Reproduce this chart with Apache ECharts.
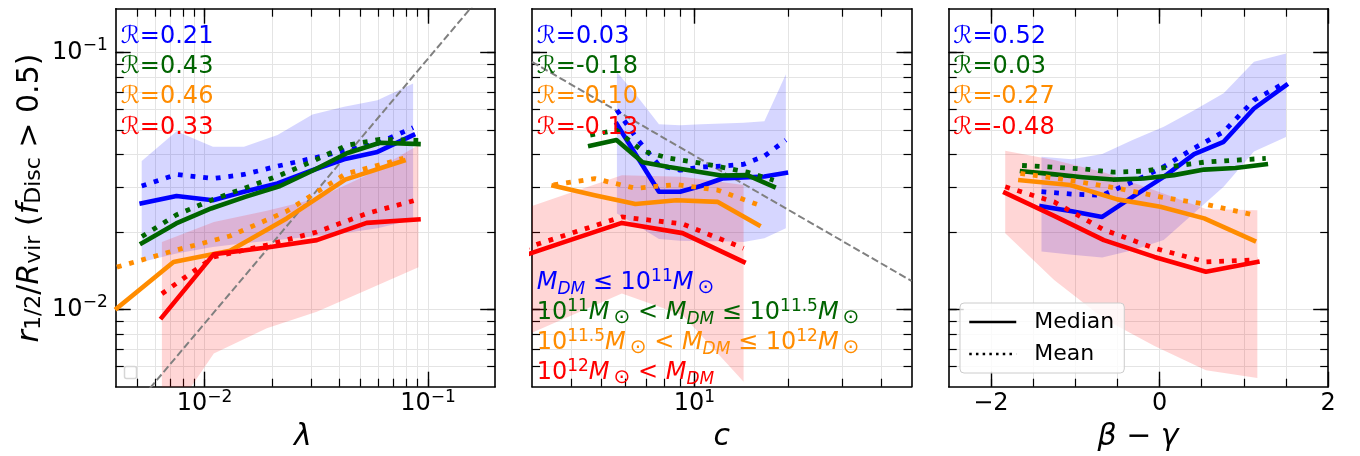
<!DOCTYPE html>
<html>
<head>
<meta charset="utf-8">
<script src="https://cdn.jsdelivr.net/npm/echarts@6/dist/echarts.min.js"></script>
<style>
html, body { margin: 0; padding: 0; background: #fff; }
#chart { width: 1360px; height: 456px; }
</style>
</head>
<body>
<div id="chart"></div>
<script>
// ---------------- data: r_1/2 / R_vir for disc galaxies, binned by halo property ----------------
// spin parameter lambda
const lambdaBlueX    = [0.00523, 0.00749, 0.0109, 0.0150, 0.0212, 0.0304, 0.0421, 0.0594, 0.0858];
const lambdaBlueMed  = [0.0259, 0.0276, 0.0266, 0.0287, 0.0309, 0.0348, 0.0384, 0.0410, 0.0477];
const lambdaBlueMean = [0.0302, 0.0335, 0.0323, 0.0335, 0.0361, 0.0387, 0.0414, 0.0442, 0.0510];
const lambdaBlueLo   = [0.0153, 0.0165, 0.0175, 0.0181, 0.0186, 0.0192, 0.0198, 0.0207, 0.0223];
const lambdaBlueHi   = [0.0378, 0.0494, 0.0429, 0.0429, 0.0477, 0.0574, 0.0614, 0.0652, 0.0757];

const lambdaGreenX    = [0.00524, 0.00746, 0.0107, 0.0152, 0.0218, 0.0307, 0.0433, 0.0610, 0.0907];
const lambdaGreenMed  = [0.0181, 0.0216, 0.0247, 0.0274, 0.0302, 0.0348, 0.0405, 0.0445, 0.0440];
const lambdaGreenMean = [0.0192, 0.0233, 0.0266, 0.0297, 0.0333, 0.0378, 0.0435, 0.0459, 0.0455];

const lambdaOrangeX    = [0.00405, 0.00726, 0.0130, 0.0233, 0.0426, 0.0777];
const lambdaOrangeMed  = [0.0101, 0.0153, 0.0169, 0.0226, 0.0320, 0.0379];
const lambdaOrangeMean = [0.0146, 0.0169, 0.0193, 0.0241, 0.0336, 0.0387];

const lambdaRedX    = [0.00644, 0.0110, 0.0190, 0.0318, 0.0532, 0.0907];
const lambdaRedMed  = [0.00931, 0.0164, 0.0174, 0.0186, 0.0217, 0.0224];
const lambdaRedMean = [0.0115, 0.0160, 0.0178, 0.0200, 0.0236, 0.0268];
const lambdaRedLo   = [0.0034, 0.00674, 0.00844, 0.00979, 0.0119, 0.0146];
const lambdaRedHi   = [0.0183, 0.0219, 0.0242, 0.0270, 0.0333, 0.0436];

const lambdaRefX = [0.004, 0.2];
const lambdaRefY = [0.00343, 0.193];

// concentration c
const concBlueX    = [5.63, 6.58, 7.69, 8.99, 10.5, 12.3, 14.4, 16.8, 19.7];
const concBlueMed  = [0.0526, 0.0388, 0.0287, 0.0287, 0.0302, 0.0323, 0.0326, 0.0329, 0.0340];
const concBlueMean = [0.0596, 0.0456, 0.0364, 0.0348, 0.0358, 0.0361, 0.0367, 0.0395, 0.0456];
const concBlueLo   = [0.0236, 0.0211, 0.0188, 0.0185, 0.0184, 0.0184, 0.0183, 0.0189, 0.0207];
const concBlueHi   = [0.0840, 0.0669, 0.0526, 0.0521, 0.0526, 0.0529, 0.0533, 0.0540, 0.0823];

const concGreenX    = [4.62, 5.61, 6.81, 8.28, 10.05, 12.2, 14.8, 18.0];
const concGreenMed  = [0.0433, 0.0456, 0.0374, 0.0358, 0.0345, 0.0332, 0.0333, 0.0300];
const concGreenMean = [0.0477, 0.0498, 0.0413, 0.0388, 0.0374, 0.0358, 0.0342, 0.0318];

const concOrangeX    = [3.52, 4.77, 6.46, 8.76, 11.9, 16.1];
const concOrangeMed  = [0.0303, 0.0278, 0.0257, 0.0266, 0.0262, 0.0213];
const concOrangeMean = [0.0305, 0.0323, 0.0296, 0.0306, 0.0291, 0.0255];

const concRedX    = [2.37, 3.72, 5.84, 9.16, 14.4];
const concRedMed  = [0.0151, 0.0181, 0.0217, 0.0198, 0.0153];
const concRedMean = [0.0161, 0.0192, 0.0229, 0.0215, 0.0173];
const concRedLo   = [0.00717, 0.00909, 0.01154, 0.0095, 0.00523];
const concRedHi   = [0.0229, 0.0276, 0.0333, 0.0328, 0.0305];

const concRefX = [3, 50];
const concRefY = [0.0919, 0.0129];

// beta - gamma
const bgBlueX    = [-1.40, -1.04, -0.68, -0.32, 0.05, 0.41, 0.76, 1.12, 1.50];
const bgBlueMed  = [0.0252, 0.0241, 0.0229, 0.0274, 0.0328, 0.0402, 0.0449, 0.0605, 0.0746];
const bgBlueMean = [0.0287, 0.0281, 0.0278, 0.0313, 0.0359, 0.0424, 0.0491, 0.0652, 0.0766];
const bgBlueLo   = [0.0168, 0.0163, 0.0159, 0.0170, 0.0186, 0.0237, 0.0300, 0.0412, 0.0469];
const bgBlueHi   = [0.0393, 0.0384, 0.0402, 0.0456, 0.0514, 0.0596, 0.0693, 0.0919, 0.0991];

const bgGreenX    = [-1.63, -1.27, -0.91, -0.55, -0.19, 0.17, 0.53, 0.90, 1.26];
const bgGreenMed  = [0.0345, 0.0336, 0.0327, 0.0320, 0.0323, 0.0333, 0.0350, 0.0355, 0.0367];
const bgGreenMean = [0.0363, 0.0358, 0.0352, 0.0342, 0.0345, 0.0361, 0.0374, 0.0381, 0.0387];

const bgOrangeX    = [-1.65, -1.06, -0.50, 0.01, 0.53, 1.12];
const bgOrangeMed  = [0.0318, 0.0305, 0.0268, 0.0251, 0.0226, 0.0185];
const bgOrangeMean = [0.0338, 0.0318, 0.0296, 0.0274, 0.0257, 0.0233];

const bgRedX    = [-1.83, -1.25, -0.66, -0.06, 0.55, 1.16];
const bgRedMed  = [0.0284, 0.0231, 0.0186, 0.0160, 0.0140, 0.0153];
const bgRedMean = [0.0300, 0.0262, 0.0204, 0.0173, 0.0153, 0.0156];
const bgRedLo   = [0.0198, 0.0130, 0.0092, 0.0072, 0.0058, 0.0054];
const bgRedHi   = [0.0414, 0.0381, 0.0342, 0.0291, 0.0246, 0.0243];

// Spearman coefficients per mass bin, one list per panel
const corrLambda = ['0.21', '0.43', '0.46', '0.33'];
const corrConc   = ['0.03', '-0.18', '-0.10', '-0.13'];
const corrBG     = ['0.52', '0.03', '-0.27', '-0.48'];

// axis ranges and ticks
const yRange = [0.005, 0.148];
const lambdaRange = [0.004, 0.2];
const concRange = [3, 50];
const bgRange = [-2.5, 2];
const bgMajorTicks = [-2, 0, 2];
const bgMinorStep = 0.5;

// ---------------- styling ----------------
const FONT = "'DejaVu Sans', sans-serif";
const BLUE = '#0000ff', GREEN = '#006400', ORANGE = '#ff8c00', RED = '#ff0000';
const GROUP_COLORS = [BLUE, GREEN, ORANGE, RED];
const BAND_BLUE = 'rgba(0,0,255,0.16)', BAND_RED = 'rgba(255,0,0,0.16)';
const GRID_LINE = '#e4e4e4';
const LG = Math.log10;

const GRID_TOP = 8.7, GRID_H = 378, GRID_W = 379.5;
const PANEL_LEFT = [115.7, 532, 948.7];

function logTicks(a, b, majorOnly) {
  const out = [];
  for (let n = Math.floor(LG(a)); n <= Math.ceil(LG(b)); n++) {
    for (let k = 1; k <= 9; k++) {
      if (majorOnly && k !== 1) continue;
      const v = k * Math.pow(10, n);
      if (v > a * 1.0001 && v < b * 0.9999) out.push(LG(v));
    }
  }
  return out;
}
function linTicks(a, b, s) {
  const out = [];
  for (let v = a + s; v < b - 1e-9; v += s) out.push(+v.toFixed(6));
  return out;
}
const minus = s => String(s).replace('-', '\u2212');

const powRich = {
  b: { fontSize: 24, fontFamily: FONT, color: '#000', lineHeight: 30 },
  s: { fontSize: 17, fontFamily: FONT, color: '#000', lineHeight: 12, verticalAlign: 'top' }
};
const powFormatter = v => `{b|10}{s|${minus(Math.round(v))}}`;
const linFormatter = v => `{b|${minus(Math.round(v))}}`;

const yMin = LG(yRange[0]), yMax = LG(yRange[1]);
const yMajor = logTicks(yRange[0], yRange[1], true);
const yMinor = logTicks(yRange[0], yRange[1], false);

const panels = [
  { xMin: LG(lambdaRange[0]), xMax: LG(lambdaRange[1]), xMajor: logTicks(lambdaRange[0], lambdaRange[1], true),
    xMinor: logTicks(lambdaRange[0], lambdaRange[1], false), fmt: powFormatter, yLabels: true },
  { xMin: LG(concRange[0]), xMax: LG(concRange[1]), xMajor: logTicks(concRange[0], concRange[1], true),
    xMinor: logTicks(concRange[0], concRange[1], false), fmt: powFormatter, yLabels: false },
  { xMin: bgRange[0], xMax: bgRange[1], xMajor: bgMajorTicks,
    xMinor: linTicks(bgRange[0], bgRange[1], bgMinorStep), fmt: linFormatter, yLabels: false }
];

const grids = [], xAxes = [], yAxes = [];
const AXIS_LINE = { show: true, onZero: false, lineStyle: { color: '#000', width: 1.6 } };
const NO_LINE = { show: false, onZero: false };

function axisSet(gi, dim, min, max, major, minor, fmt, showLabels) {
  const sides = dim === 'x' ? ['bottom', 'top'] : ['left', 'right'];
  const list = [];
  sides.forEach((side, si) => {
    // major ticks (long), with frame line and labels on the primary side
    list.push({
      type: 'value', gridIndex: gi, position: side, min, max,
      axisLine: AXIS_LINE,
      axisTick: { show: true, inside: true, length: 15, lineStyle: { color: '#000', width: 1.4 }, customValues: major },
      axisLabel: (si === 0 && showLabels) ? {
        show: true, customValues: major, formatter: fmt, rich: powRich, fontFamily: FONT,
        margin: dim === 'x' ? 2 : 8
      } : { show: false },
      splitLine: { show: false }
    });
    // minor ticks (short); the grid lines ride on these
    list.push({
      type: 'value', gridIndex: gi, position: side, min, max,
      axisLine: NO_LINE,
      axisTick: { show: true, inside: true, length: 8, lineStyle: { color: '#000', width: 1.2 }, customValues: minor },
      axisLabel: { show: false },
      splitLine: { show: si === 0, lineStyle: { color: GRID_LINE, width: 1 } }
    });
  });
  return list;
}

panels.forEach((p, gi) => {
  grids.push({ left: PANEL_LEFT[gi], top: GRID_TOP, width: GRID_W, height: GRID_H, show: false });
  xAxes.push(...axisSet(gi, 'x', p.xMin, p.xMax, p.xMajor, p.xMinor, p.fmt, true));
  yAxes.push(...axisSet(gi, 'y', yMin, yMax, yMajor, yMinor.concat(yMajor), powFormatter, p.yLabels));
});

// ---------------- series ----------------
const series = [];
function tx(gi, v) { return gi === 2 ? v : LG(v); }

function addBand(gi, xs, lo, hi, fill) {
  const pts = xs.map((x, i) => [tx(gi, x), LG(lo[i]), LG(hi[i])]);
  series.push({
    type: 'custom', xAxisIndex: 4 * gi, yAxisIndex: 4 * gi, silent: true, z: 1,
    data: pts,
    renderItem: (params, api) => {
      if (params.dataIndex !== 0) return;
      const poly = [];
      pts.forEach(d => poly.push(api.coord([d[0], d[1]])));
      for (let i = pts.length - 1; i >= 0; i--) poly.push(api.coord([pts[i][0], pts[i][2]]));
      const cs = params.coordSys;
      return {
        type: 'polygon', shape: { points: poly }, style: { fill, stroke: null },
        clipPath: { type: 'rect', shape: { x: cs.x, y: cs.y, width: cs.width, height: cs.height } }
      };
    }
  });
}
function addLine(gi, xs, ys, color, dotted, z) {
  series.push({
    type: 'line', xAxisIndex: 4 * gi, yAxisIndex: 4 * gi, silent: true, z: z || 3,
    data: xs.map((x, i) => [tx(gi, x), LG(ys[i])]),
    symbol: 'none', clip: true,
    lineStyle: dotted
      ? { color, width: 4.8, type: [4.8, 7.9], cap: 'butt', join: 'round' }
      : { color, width: 4.6, type: 'solid', cap: 'square', join: 'round' }
  });
}
function addRef(gi, xs, ys) {
  series.push({
    type: 'line', xAxisIndex: 4 * gi, yAxisIndex: 4 * gi, silent: true, z: 2,
    data: xs.map((x, i) => [tx(gi, x), LG(ys[i])]),
    symbol: 'none', clip: true,
    lineStyle: { color: '#808080', width: 2, type: [7.4, 3.2] }
  });
}

// panel 1: lambda
addBand(0, lambdaBlueX, lambdaBlueLo, lambdaBlueHi, BAND_BLUE);
addBand(0, lambdaRedX, lambdaRedLo, lambdaRedHi, BAND_RED);
addRef(0, lambdaRefX, lambdaRefY);
addLine(0, lambdaBlueX, lambdaBlueMed, BLUE, false);
addLine(0, lambdaBlueX, lambdaBlueMean, BLUE, true);
addLine(0, lambdaGreenX, lambdaGreenMed, GREEN, false);
addLine(0, lambdaGreenX, lambdaGreenMean, GREEN, true);
addLine(0, lambdaOrangeX, lambdaOrangeMed, ORANGE, false);
addLine(0, lambdaOrangeX, lambdaOrangeMean, ORANGE, true);
addLine(0, lambdaRedX, lambdaRedMed, RED, false);
addLine(0, lambdaRedX, lambdaRedMean, RED, true);

// panel 2: concentration
addBand(1, concBlueX, concBlueLo, concBlueHi, BAND_BLUE);
addBand(1, concRedX, concRedLo, concRedHi, BAND_RED);
addRef(1, concRefX, concRefY);
addLine(1, concBlueX, concBlueMed, BLUE, false);
addLine(1, concBlueX, concBlueMean, BLUE, true);
addLine(1, concGreenX, concGreenMed, GREEN, false);
addLine(1, concGreenX, concGreenMean, GREEN, true);
addLine(1, concOrangeX, concOrangeMed, ORANGE, false);
addLine(1, concOrangeX, concOrangeMean, ORANGE, true);
addLine(1, concRedX, concRedMed, RED, false);
addLine(1, concRedX, concRedMean, RED, true);

// panel 3: beta - gamma
addBand(2, bgBlueX, bgBlueLo, bgBlueHi, BAND_BLUE);
addBand(2, bgRedX, bgRedLo, bgRedHi, BAND_RED);
addLine(2, bgBlueX, bgBlueMed, BLUE, false);
addLine(2, bgBlueX, bgBlueMean, BLUE, true);
addLine(2, bgGreenX, bgGreenMed, GREEN, false);
addLine(2, bgGreenX, bgGreenMean, GREEN, true);
addLine(2, bgOrangeX, bgOrangeMed, ORANGE, false);
addLine(2, bgOrangeX, bgOrangeMean, ORANGE, true);
addLine(2, bgRedX, bgRedMed, RED, false);
addLine(2, bgRedX, bgRedMean, RED, true);

// line-style key (no data of its own)
series.push({ name: 'Median', type: 'line', xAxisIndex: 8, yAxisIndex: 8, data: [], symbol: 'none',
  itemStyle: { color: '#000', opacity: 0 },
  lineStyle: { color: '#000', width: 2.5, type: 'solid' } });
series.push({ name: 'Mean', type: 'line', xAxisIndex: 8, yAxisIndex: 8, data: [], symbol: 'none',
  itemStyle: { color: '#000', opacity: 0 },
  lineStyle: { color: '#000', width: 2.5, type: [2.5, 4.2] } });

// ---------------- text ----------------
const mathRich = (size, color) => ({
  t:  { fontSize: size, fontFamily: FONT, fill: color, lineHeight: 30 },
  i:  { fontSize: size, fontFamily: FONT, fontStyle: 'italic', fill: color, lineHeight: 30 },
  sup:{ fontSize: Math.round(size * 0.72), fontFamily: FONT, fill: color, lineHeight: 12, verticalAlign: 'top' },
  sub:{ fontSize: Math.round(size * 0.72), fontFamily: FONT, fill: color, lineHeight: 13, verticalAlign: 'bottom' },
  subi:{ fontSize: Math.round(size * 0.72), fontFamily: FONT, fontStyle: 'italic', fill: color, lineHeight: 13, verticalAlign: 'bottom' },
  sun:{ fontSize: Math.round(size * 0.85), fontFamily: FONT, fill: color, lineHeight: 12, verticalAlign: 'bottom' }
});
function mathText(x, y, text, size, color, align) {
  return {
    type: 'text', x, y, z: 10, silent: true,
    style: { text, rich: mathRich(size, color), fontFamily: FONT, fontSize: size, fill: color,
      align: align || 'left', verticalAlign: 'middle' }
  };
}

const graphics = [];
const corrRows = [37, 67, 97, 127.5];
[[corrLambda, 120.7], [corrConc, 536.7], [corrBG, 953.3]].forEach(([vals, x]) => {
  vals.forEach((v, k) => {
    graphics.push(mathText(x, corrRows[k], `{t|\u211B=${v}}`, 24, GROUP_COLORS[k]));
  });
});

// halo-mass bins, written in panel 2
const SUN = '{sun|\u2009\u2299}';
const massLabels = [
  `{i|M}{subi|DM}{t| \u2264 10}{sup|11}{i|M}${SUN}`,
  `{t|10}{sup|11}{i|M}${SUN}{t| < }{i|M}{subi|DM}{t| \u2264 10}{sup|11.5}{i|M}${SUN}`,
  `{t|10}{sup|11.5}{i|M}${SUN}{t| < }{i|M}{subi|DM}{t| \u2264 10}{sup|12}{i|M}${SUN}`,
  `{t|10}{sup|12}{i|M}${SUN}{t| < }{i|M}{subi|DM}`
];
massLabels.forEach((s, k) => graphics.push(mathText(536.7, 283 + 30 * k, s, 24, GROUP_COLORS[k])));

// axis titles
graphics.push(mathText(303, 437, '{i|\u03BB}', 30, '#000', 'center'));
graphics.push(mathText(721.7, 437, '{i|c}', 30, '#000', 'center'));
graphics.push(mathText(1138, 437, '{i|\u03B2}{t| \u2212 }{i|\u03B3}', 30, '#000', 'center'));
graphics.push({
  type: 'text', x: 30, y: 198, rotation: Math.PI / 2, z: 10, silent: true,
  style: {
    text: '{i|r}{sub|1/2}{t|/}{i|R}{sub|vir}{t| (}{i|f}{sub|Disc}{t| > 0.5)}',
    rich: mathRich(30, '#000'), align: 'center', verticalAlign: 'middle'
  }
});
// empty legend frame in the first panel
graphics.push({ type: 'rect', z: 10, silent: true, shape: { x: 124.5, y: 366.5, width: 12, height: 12, r: 2 },
  style: { fill: '#fff', stroke: '#d6d6d6', lineWidth: 1.5 } });

const chart = echarts.init(document.getElementById('chart'), null, { renderer: 'canvas' });
chart.setOption({
  animation: false,
  backgroundColor: '#fff',
  grid: grids,
  xAxis: xAxes,
  yAxis: yAxes,
  series,
  legend: {
    data: [
      { name: 'Median', itemStyle: { opacity: 0 }, lineStyle: { color: '#000', width: 2.5, type: 'solid' } },
      { name: 'Mean', itemStyle: { opacity: 0 }, lineStyle: { color: '#000', width: 2.5, type: [2.5, 4.2] } }
    ],
    orient: 'vertical', left: 960, top: 303,
    itemWidth: 47, itemHeight: 14, itemGap: 6, padding: [6, 10, 6, 8],
    borderColor: '#cccccc', borderWidth: 1, borderRadius: 4, backgroundColor: 'rgba(255,255,255,0.8)',
    selectedMode: false,
    textStyle: { fontFamily: FONT, fontSize: 22, color: '#000', lineHeight: 26, padding: [0, 0, 0, 13] }
  },
  graphic: { elements: graphics }
});
</script>
</body>
</html>
